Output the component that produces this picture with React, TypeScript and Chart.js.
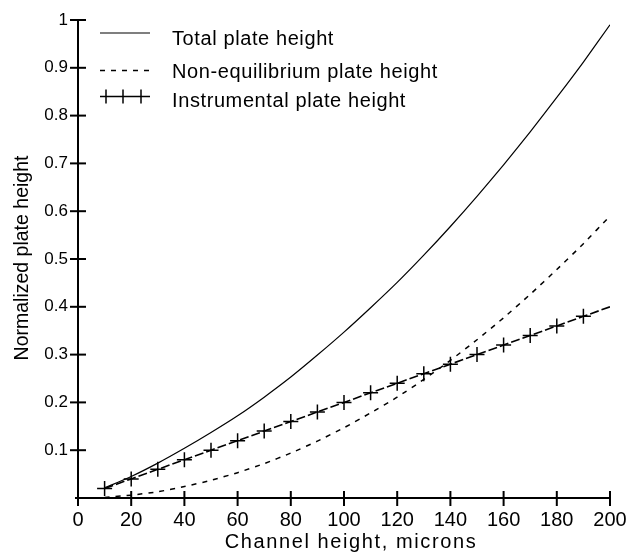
import { useEffect, useRef } from "react";
import { Chart, registerables } from "chart.js";

Chart.register(...registerables);

// Channel height (microns) at which each curve is sampled
const channelHeights = [10, 20, 30, 40, 50, 60, 70, 80, 90, 100, 110, 120, 130, 140, 150, 160, 170, 180, 190, 200];

const totalPlateHeight = [0.021, 0.045, 0.073, 0.104, 0.137, 0.172, 0.211, 0.253, 0.299, 0.347, 0.398, 0.451, 0.508, 0.568, 0.631, 0.697, 0.766, 0.838, 0.912, 0.99];
const nonEquilibriumPlateHeight = [0.001, 0.006, 0.013, 0.024, 0.037, 0.053, 0.072, 0.094, 0.119, 0.147, 0.178, 0.211, 0.248, 0.288, 0.331, 0.377, 0.426, 0.478, 0.532, 0.59];
const instrumentalPlateHeight = [0.02, 0.04, 0.06, 0.08, 0.1, 0.12, 0.14, 0.16, 0.18, 0.2, 0.22, 0.24, 0.26, 0.28, 0.3, 0.32, 0.34, 0.36, 0.38, 0.4];

const xTickValues = [0, 20, 40, 60, 80, 100, 120, 140, 160, 180, 200];
const yTickValues = [0.1, 0.2, 0.3, 0.4, 0.5, 0.6, 0.7, 0.8, 0.9, 1];

const seriesLabels = ["Total plate height", "Non-equilibrium plate height", "Instrumental plate height"];
const xTitle = "Channel height, microns";
const yTitle = "Normalized plate height";

const FONT = '"Liberation Sans", Arial, Helvetica, sans-serif';

const toPoints = (ys: number[]) => channelHeights.map((x, i) => ({ x, y: ys[i] }));

function strokeLine(ctx: CanvasRenderingContext2D, x1: number, y1: number, x2: number, y2: number) {
  ctx.beginPath();
  ctx.moveTo(x1, y1);
  ctx.lineTo(x2, y2);
  ctx.stroke();
}

// Axis lines with tick marks that cross through the axis
const crossAxesPlugin = {
  id: "crossAxes",
  beforeDatasetsDraw(chart: any) {
    const { ctx, scales } = chart;
    const xs = scales.x;
    const ys = scales.y;
    const x0 = xs.getPixelForValue(0);
    const y0 = ys.getPixelForValue(0);
    ctx.save();
    ctx.strokeStyle = "#000";
    ctx.lineWidth = 2;
    strokeLine(ctx, x0, ys.getPixelForValue(1), x0, y0);
    strokeLine(ctx, x0 - 3, y0, xs.getPixelForValue(200) + 1, y0);
    yTickValues.forEach((v) => {
      const py = ys.getPixelForValue(v);
      strokeLine(ctx, x0 - 8, py, x0 + 8, py);
    });
    xTickValues.forEach((v) => {
      const px = xs.getPixelForValue(v);
      strokeLine(ctx, px, y0 - 7, px, y0 + 8);
    });
    ctx.restore();
  },
};

// Axis titles and the legend drawn inside the plot
const annotationsPlugin = {
  id: "annotations",
  afterDraw(chart: any) {
    const { ctx } = chart;
    ctx.save();
    ctx.fillStyle = "#000";

    // x title
    ctx.font = `20px ${FONT}`;
    (ctx as any).letterSpacing = "1.6px";
    ctx.textAlign = "center";
    ctx.textBaseline = "alphabetic";
    ctx.fillText(xTitle, 351, 548);

    // y title
    (ctx as any).letterSpacing = "0px";
    ctx.font = `19.5px ${FONT}`;
    ctx.save();
    ctx.translate(28, 258);
    ctx.rotate(-Math.PI / 2);
    ctx.fillText(yTitle, 0, 0);
    ctx.restore();

    // legend
    const lineY = [33, 70.5, 96.5];
    const textY = [45, 78, 107];
    ctx.textAlign = "left";
    ctx.font = `20px ${FONT}`;
    (ctx as any).letterSpacing = "0.6px";
    chart.data.datasets.forEach((ds: any, i: number) => {
      ctx.strokeStyle = "#000";
      const isCross = ds.pointStyle === "cross";
      ctx.lineWidth = ds.borderWidth;
      ctx.setLineDash(isCross ? [] : ds.borderDash || []);
      strokeLine(ctx, 100, lineY[i], 150, lineY[i]);
      ctx.setLineDash([]);
      if (isCross) {
        ctx.lineWidth = 1.5;
        [106, 123, 141].forEach((cx) => {
          strokeLine(ctx, cx, lineY[i] - 7, cx, lineY[i] + 7);
        });
      }
      ctx.fillText(ds.label, 172, textY[i]);
    });
    ctx.restore();
  },
};

export default function App() {
  const canvasRef = useRef<HTMLCanvasElement | null>(null);

  useEffect(() => {
    const canvas = canvasRef.current;
    if (!canvas) return;
    const chart = new Chart(canvas, {
      type: "line",
      data: {
        datasets: [
          {
            label: seriesLabels[0],
            data: toPoints(totalPlateHeight),
            borderColor: "#000",
            borderWidth: 1.2,
            pointRadius: 0,
            tension: 0.2,
          },
          {
            label: seriesLabels[1],
            data: toPoints(nonEquilibriumPlateHeight),
            borderColor: "#000",
            borderWidth: 1.5,
            borderDash: [5, 6],
            pointRadius: 0,
            tension: 0.2,
          },
          {
            label: seriesLabels[2],
            data: toPoints(instrumentalPlateHeight),
            borderColor: "#000",
            borderWidth: 1.6,
            borderDash: [9, 3],
            pointStyle: "cross",
            pointRadius: instrumentalPlateHeight.map((_, i) => (i === instrumentalPlateHeight.length - 1 ? 0 : 7.5)),
            pointBorderWidth: 1.5,
            pointBorderColor: "#000",
            tension: 0,
          },
        ],
      },
      options: {
        animation: false,
        responsive: false,
        maintainAspectRatio: false,
        layout: { padding: { left: 0, right: 18, top: 20, bottom: 0 } },
        plugins: {
          legend: { display: false },
          tooltip: { enabled: false },
        },
        scales: {
          x: {
            type: "linear",
            min: 0,
            max: 200,
            afterFit: (s: any) => {
              s.height = 56;
              s.paddingLeft = 0;
              s.paddingRight = 0;
            },
            afterBuildTicks: (s: any) => {
              s.ticks = xTickValues.map((value) => ({ value }));
            },
            grid: { display: true, drawOnChartArea: false, drawTicks: false, tickLength: 0 },
            border: { display: false },
            ticks: {
              color: "#000",
              font: { family: FONT, size: 20 },
              padding: 10,
              maxRotation: 0,
              autoSkip: false,
            },
          },
          y: {
            type: "linear",
            min: 0,
            max: 1,
            afterFit: (s: any) => {
              s.width = 78;
              s.paddingTop = 0;
              s.paddingBottom = 0;
            },
            afterBuildTicks: (s: any) => {
              s.ticks = yTickValues.map((value) => ({ value }));
            },
            grid: { display: true, drawOnChartArea: false, drawTicks: false, tickLength: 0 },
            border: { display: false },
            ticks: {
              color: "#000",
              font: { family: FONT, size: 17 },
              padding: 10,
              autoSkip: false,
              callback: (v: any) => String(Math.round(Number(v) * 10) / 10),
            },
          },
        },
      },
      plugins: [crossAxesPlugin, annotationsPlugin],
    });
    return () => chart.destroy();
  }, []);

  return (
    <div style={{ position: "fixed", left: 0, top: 0, width: 628, height: 554, background: "#fff" }}>
      <canvas ref={canvasRef} width={628} height={554} style={{ width: 628, height: 554 }} />
    </div>
  );
}
